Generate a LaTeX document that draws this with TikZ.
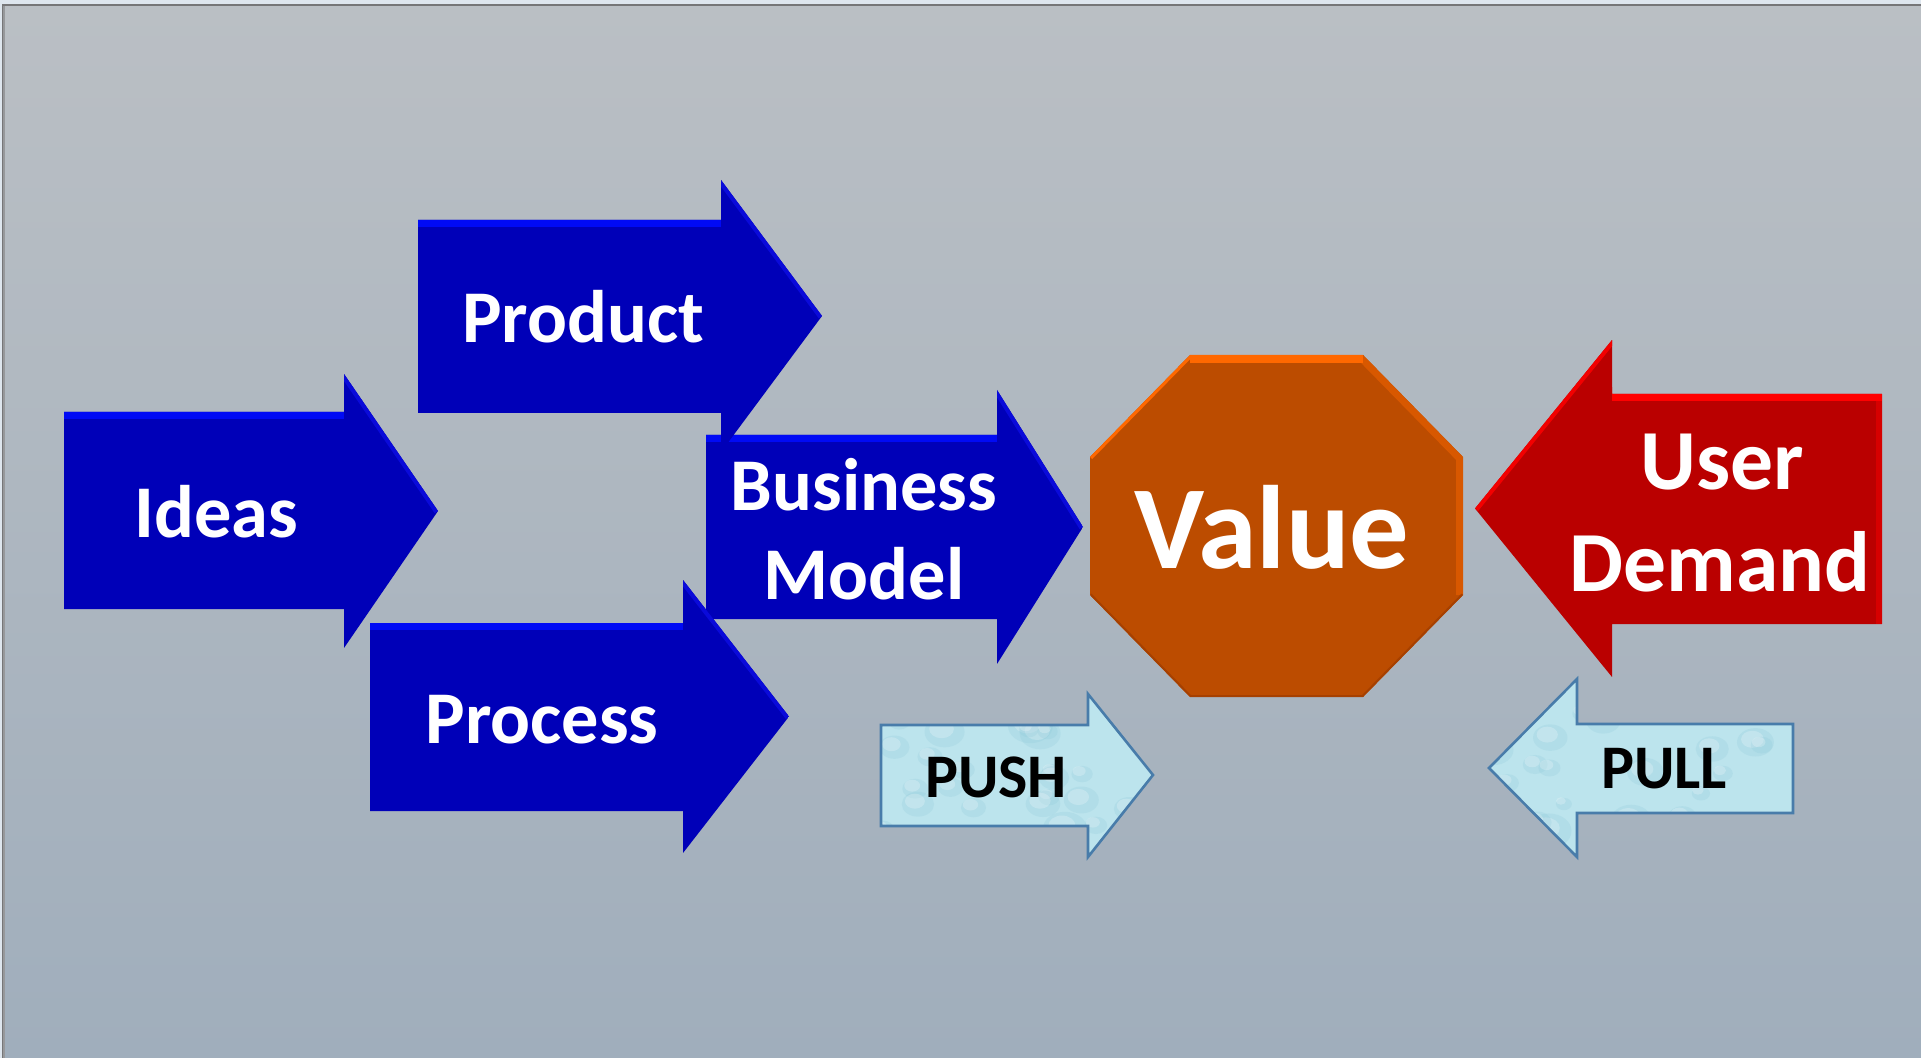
\documentclass[tikz,border=0pt]{standalone}
\usepackage{fontspec}
\setmainfont{Carlito}
\definecolor{bgout}{RGB}{222,230,238}
\definecolor{bgtop}{RGB}{186,191,196}
\definecolor{bgbot}{RGB}{160,174,188}
\definecolor{frameA}{RGB}{118,118,120}
\definecolor{frameB}{RGB}{150,152,155}
\definecolor{bluemain}{RGB}{0,0,184}
\definecolor{bluelight}{RGB}{0,10,245}
\definecolor{bluebevel}{RGB}{10,10,218}
\definecolor{blueside}{RGB}{0,0,184}
\definecolor{redmain}{RGB}{186,0,0}
\definecolor{redlight}{RGB}{255,0,0}
\definecolor{redbevel}{RGB}{242,0,0}
\definecolor{redside}{RGB}{214,0,0}
\definecolor{orgmain}{RGB}{188,76,0}
\definecolor{orglight}{RGB}{255,104,0}
\definecolor{orgside}{RGB}{216,88,0}
\definecolor{orgdark}{RGB}{166,64,0}
\definecolor{aqua}{RGB}{188,228,237}
\definecolor{aquadark}{RGB}{140,200,216}
\definecolor{aquaedge}{RGB}{72,124,170}

\tikzset{
  lbl/.style={text=white, inner sep=0pt, font=\bfseries\fontsize{37.2}{44.6}\selectfont},
  biglbl/.style={text=white, inner sep=0pt, font=\bfseries\fontsize{59.3}{71}\selectfont},
  udlbl/.style={text=white, inner sep=0pt, font=\bfseries\fontsize{42.8}{51}\selectfont},
  pplbl/.style={text=black, inner sep=0pt, font=\bfseries\fontsize{31}{37}\selectfont},
  ppedge/.style={draw=aquaedge, line width=1.3pt, line join=miter},
}

% right-pointing bevelled arrow
% #1 left, #2 top, #3 bottom, #4 shaft end, #5 head top, #6 head bottom, #7 tip x, #8 colour prefix
\newcommand{\rarrowshape}[8]{%
  \begin{scope}
    \clip (#1,#2) -- (#4,#2) -- (#4,#5) -- (#7,{(#5+#6)/2}) -- (#4,#6) -- (#4,#3) -- (#1,#3) -- cycle;
    \fill[#8main] (#1,#5) rectangle (#7,#6);
    \draw[#8light, line width=7pt] (#1,#2) -- (#4,#2);
    \draw[#8bevel, line width=4pt] (#4,#5) -- (#7,{(#5+#6)/2});
  \end{scope}}

% left-pointing bevelled arrow
% #1 right, #2 top, #3 bottom, #4 shaft end, #5 head top, #6 head bottom, #7 tip x, #8 colour prefix
\newcommand{\larrowshape}[8]{%
  \begin{scope}
    \clip (#1,#2) -- (#4,#2) -- (#4,#5) -- (#7,{(#5+#6)/2}) -- (#4,#6) -- (#4,#3) -- (#1,#3) -- cycle;
    \fill[#8main] (#7,#5) rectangle (#1,#6);
    \draw[#8side, line width=6pt] (#1,#2) -- (#1,#3);
    \draw[#8light, line width=7pt] (#4,#2) -- (#1,#2);
    \draw[#8bevel, line width=4pt] (#4,#5) -- (#7,{(#5+#6)/2});
  \end{scope}}

\begin{document}
\begin{tikzpicture}[x=0.5pt, y=-0.5pt]
\useasboundingbox (0,0) rectangle (1921,1058);

% background
\fill[bgout] (0,0) rectangle (1921,1058);
\shade[top color=bgtop, bottom color=bgbot] (3,5) rectangle (1921,1058);
\draw[frameA, line width=1.2pt] (3,1058) -- (3,5) -- (1921,5);
\draw[frameB, line width=0.8pt] (4,1058) -- (4,6);

% blue arrows
\rarrowshape{64}{412}{609}{344}{374}{648}{438}{blue}
\rarrowshape{706}{435}{619}{997}{390}{664}{1083}{blue}
\rarrowshape{418}{220}{413}{721}{180}{452}{822}{blue}
\rarrowshape{370}{623}{811}{683}{580}{853}{789}{blue}

% value octagon
\begin{scope}
  \clip (1190,355) -- (1363,355) -- (1463,457) -- (1463,595) -- (1363,697) -- (1190,697) -- (1090,595) -- (1090,457) -- cycle;
  \fill[orgmain] (1090,355) rectangle (1463,697);
  \draw[orgside, line width=7pt] (1363,355) -- (1463,457) -- (1463,595);
  \draw[orglight, line width=3pt] (1090,457) -- (1190,355);
  \draw[orglight, line width=8pt] (1190,355) -- (1363,355);
  \draw[orgdark, line width=2pt] (1463,595) -- (1363,697) -- (1190,697) -- (1090,595);
\end{scope}

% user demand arrow
\larrowshape{1882}{394}{624}{1612}{340}{677}{1475}{red}

% PUSH arrow
\pgfmathsetseed{11}
\begin{scope}
  \clip (881,725) -- (1088,725) -- (1088,694) -- (1153,775) -- (1088,857) -- (1088,826) -- (881,826) -- cycle;
  \fill[aqua] (881,694) rectangle (1153,857);
  \foreach \i in {1,...,28}{
    \pgfmathsetmacro\cx{881+272*rnd}
    \pgfmathsetmacro\cy{694+163*rnd}
    \pgfmathsetmacro\rr{3+6*rnd}
    \fill[aquadark, opacity=0.22] (\cx,\cy) ellipse[x radius=1.3*\rr pt, y radius=\rr pt];
    \fill[white, opacity=0.22] (\cx-3,\cy-3) ellipse[x radius=0.8*\rr pt, y radius=0.6*\rr pt];
  }
\end{scope}
\path[ppedge] (881,725) -- (1088,725) -- (1088,694) -- (1153,775) -- (1088,857) -- (1088,826) -- (881,826) -- cycle;

% PULL arrow
\begin{scope}
  \clip (1793,724) -- (1577,724) -- (1577,679) -- (1489,768) -- (1577,857) -- (1577,813) -- (1793,813) -- cycle;
  \fill[aqua] (1489,679) rectangle (1793,857);
  \foreach \i in {1,...,30}{
    \pgfmathsetmacro\cx{1489+304*rnd}
    \pgfmathsetmacro\cy{679+178*rnd}
    \pgfmathsetmacro\rr{3+6*rnd}
    \fill[aquadark, opacity=0.22] (\cx,\cy) ellipse[x radius=1.3*\rr pt, y radius=\rr pt];
    \fill[white, opacity=0.22] (\cx-3,\cy-3) ellipse[x radius=0.8*\rr pt, y radius=0.6*\rr pt];
  }
\end{scope}
\path[ppedge] (1793,724) -- (1577,724) -- (1577,679) -- (1489,768) -- (1577,857) -- (1577,813) -- (1793,813) -- cycle;

% labels
\node[lbl, anchor=base] (ideas) at (216,538) {Ideas};
\node[lbl, anchor=base] (product) at (583,343) {Product};
\node[lbl, anchor=base] (process) at (542,743) {Process};
\node[lbl, anchor=base] (business) at (864,510) {Business};
\node[lbl, anchor=base] (model) at (864,599) {Model};
\node[biglbl, anchor=base] (value) at (1272,568) {Value};
\node[udlbl, anchor=base] (user) at (1722,490) {User};
\node[udlbl, anchor=base] (demand) at (1720,591) {Demand};
\node[pplbl, anchor=base] (push) at (996,797) {PUSH};
\node[pplbl, anchor=base] (pull) at (1664,788) {PULL};
\end{tikzpicture}
\end{document}
